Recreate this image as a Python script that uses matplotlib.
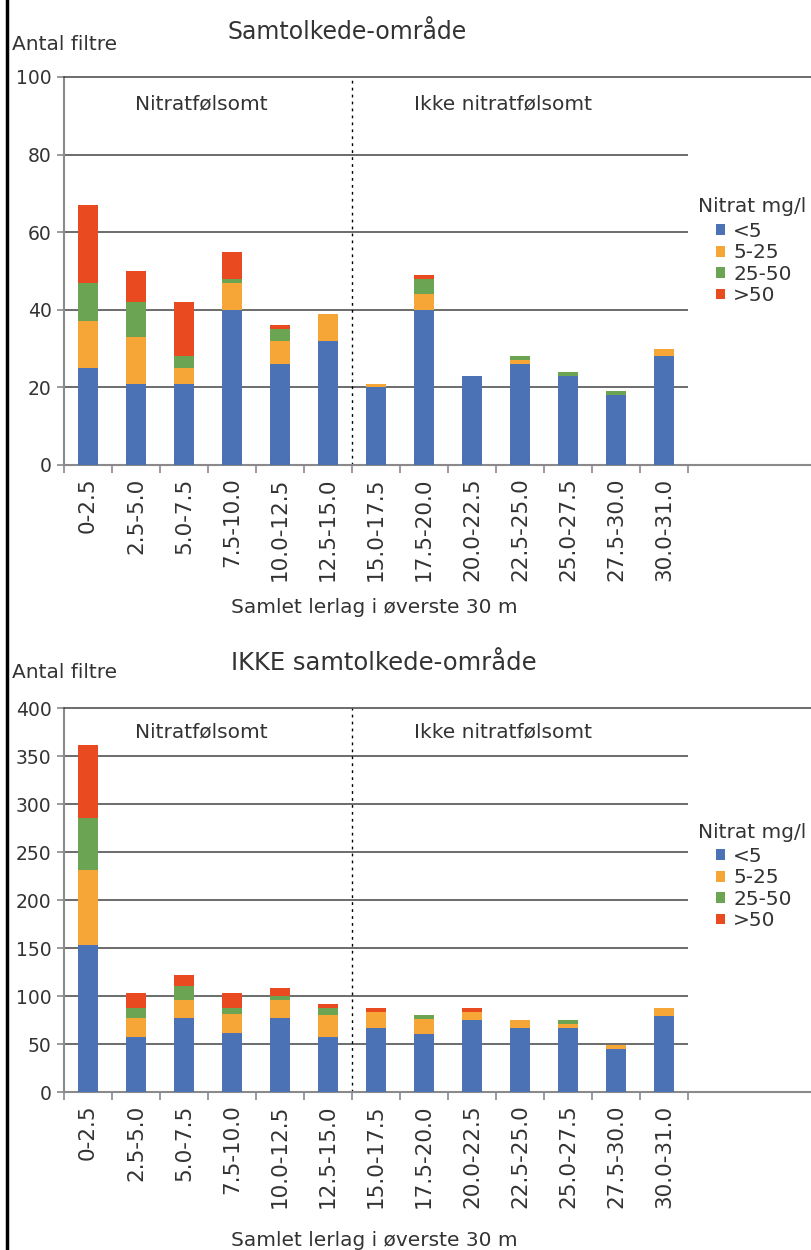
import numpy as np
import matplotlib.pyplot as plt
from matplotlib.patches import Patch
from matplotlib.lines import Line2D

# Categories (Samlet lerlag i øverste 30 m)
categories = ["0-2.5", "2.5-5.0", "5.0-7.5", "7.5-10.0", "10.0-12.5", "12.5-15.0",
              "15.0-17.5", "17.5-20.0", "20.0-22.5", "22.5-25.0", "25.0-27.5",
              "27.5-30.0", "30.0-31.0"]
series_names = ["<5", "5-25", "25-50", ">50"]
colors = ["#4a72b4", "#f6a637", "#6ba553", "#ea4a1f"]

# Samtolkede-område
top_lt5 = [25, 21, 21, 40, 26, 32, 20, 40, 23, 26, 23, 18, 28]
top_5_25 = [12, 12, 4, 7, 6, 7, 1, 4, 0, 1, 0, 0, 2]
top_25_50 = [10, 9, 3, 1, 3, 0, 0, 4, 0, 1, 1, 1, 0]
top_gt50 = [20, 8, 14, 7, 1, 0, 0, 1, 0, 0, 0, 0, 0]

# IKKE samtolkede-område
bot_lt5 = [153, 57, 77, 61, 77, 57, 67, 60, 75, 67, 67, 45, 79]
bot_5_25 = [78, 20, 19, 20, 19, 23, 16, 16, 8, 8, 4, 4, 8]
bot_25_50 = [54, 11, 14, 7, 4, 8, 0, 4, 0, 0, 4, 0, 0]
bot_gt50 = [76, 15, 12, 15, 8, 4, 4, 0, 4, 0, 0, 0, 0]

W, H = 811, 1250
FS = 14.5
TXT = "#333333"
GRID = "#444444"
AXIS = "#8a8a8a"


def fy(px):
    return 1 - px / H


def panel(ax, series, ymax, ystep, label_y, leg_title_y, leg_top):
    x = np.arange(len(categories))
    bottom = np.zeros(len(categories))
    for vals, c in zip(series, colors):
        ax.bar(x, vals, width=0.4, bottom=bottom, color=c, edgecolor="none", zorder=3)
        bottom += np.array(vals)

    ax.set_xlim(-0.5, 15.06)
    ax.set_ylim(0, ymax)
    # gridlines only over the category range
    ax.hlines(np.arange(ystep, ymax, ystep), -0.5, 12.5, color=GRID, lw=1.1, zorder=1)
    # divider between Nitratfølsomt and Ikke nitratfølsomt
    ax.vlines(5.5, 0, ymax, color="black", lw=1, linestyles=(0, (2, 3)), zorder=2)

    ax.spines["right"].set_visible(False)
    ax.spines["top"].set_color(GRID)
    ax.spines["top"].set_linewidth(1.1)
    for s in ["left", "bottom"]:
        ax.spines[s].set_color(AXIS)
        ax.spines[s].set_linewidth(1.5)

    ax.set_yticks(np.arange(0, ymax + 1, ystep))
    ax.tick_params(axis="y", length=5, width=1.2, color=AXIS, pad=4,
                   labelsize=13.5, labelcolor=TXT)
    ax.set_xticks(np.arange(-0.5, 13, 1))
    ax.set_xticklabels([])
    ax.tick_params(axis="x", which="major", length=6, width=1.2, color=AXIS)
    ax.set_xticks(x, minor=True)
    ax.set_xticklabels(categories, minor=True, rotation=90, fontsize=15.5, color=TXT)
    ax.tick_params(axis="x", which="minor", length=0, pad=9)

    ax.text(2.35, label_y, "Nitratfølsomt", ha="center", va="center", fontsize=FS, color=TXT)
    ax.text(8.65, label_y, "Ikke nitratfølsomt", ha="center", va="center", fontsize=FS, color=TXT)

    # legend
    fig = ax.figure
    fig.text(752 / W, fy(leg_title_y), "Nitrat mg/l", ha="center", va="center",
             fontsize=FS, color=TXT)
    handles = [Patch(facecolor=c, edgecolor="none") for c in colors]
    ax.legend(handles, series_names, loc="upper left",
              bbox_to_anchor=(716 / W, fy(leg_top)), bbox_transform=fig.transFigure,
              frameon=False, fontsize=FS, handlelength=0.45,
              handleheight=0.45, handletextpad=0.4, labelspacing=0.12, borderpad=0,
              borderaxespad=0, labelcolor=TXT)


fig = plt.figure(figsize=(W / 100, H / 100), dpi=100)

ax1 = fig.add_axes([64 / W, fy(465), 1 - 64 / W, (465 - 77) / H])
panel(ax1, [top_lt5, top_5_25, top_25_50, top_gt50], 100, 20, 93, 206, 222)

ax2 = fig.add_axes([64 / W, fy(1092), 1 - 64 / W, (1092 - 708) / H])
panel(ax2, [bot_lt5, bot_5_25, bot_25_50, bot_gt50], 400, 50, 375, 833, 847)

for yy in [608, 1240]:
    fig.text(374 / W, fy(yy), "Samlet lerlag i øverste 30 m", ha="center", va="center",
             fontsize=FS, color=TXT)

fig.text(347 / W, fy(32), "Samtolkede-område", ha="center", va="center", fontsize=17, color=TXT)
fig.text(384 / W, fy(663), "IKKE samtolkede-område", ha="center", va="center", fontsize=17.5, color=TXT)
fig.text(12 / W, fy(45), "Antal filtre", ha="left", va="center", fontsize=FS, color=TXT)
fig.text(12 / W, fy(672), "Antal filtre", ha="left", va="center", fontsize=FS, color=TXT)

# black border on the left edge
fig.add_artist(Line2D([6.5 / W, 6.5 / W], [0, 1], transform=fig.transFigure,
                      color="black", lw=2.5))

fig.savefig("out.png", dpi=100)
